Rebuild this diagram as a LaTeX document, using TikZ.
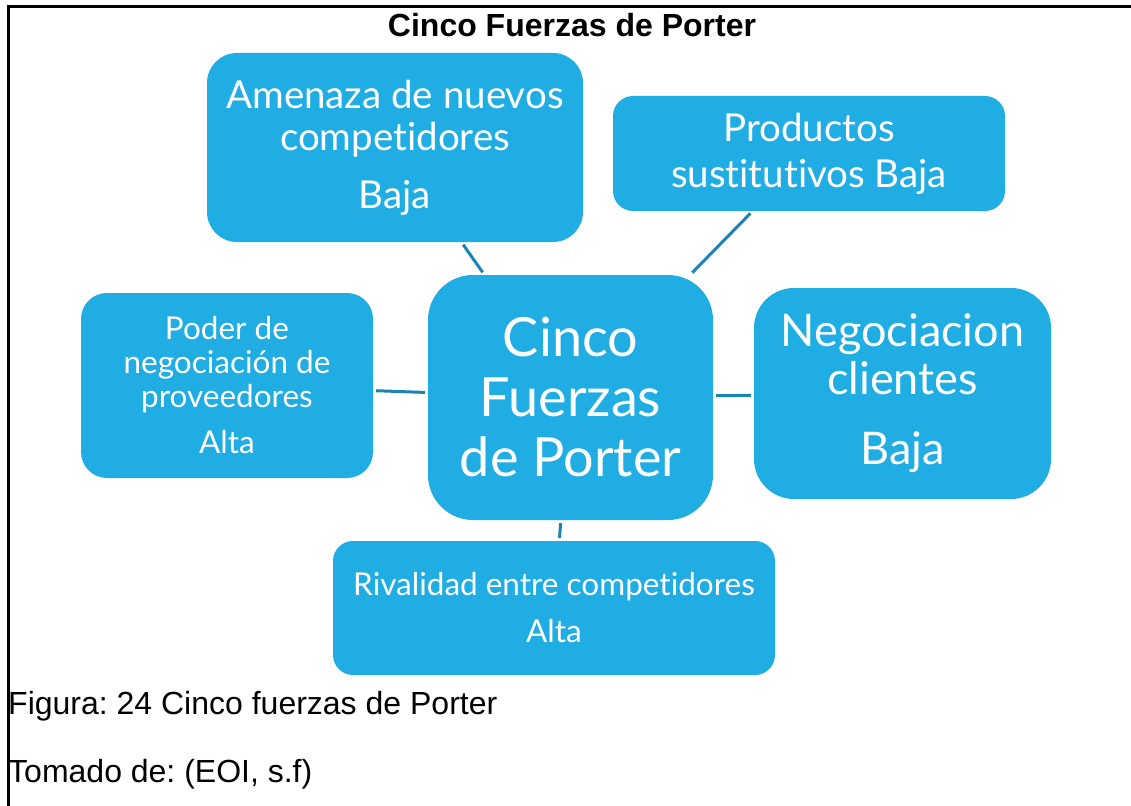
\documentclass[tikz,border=0pt]{standalone}
\usepackage{fontspec}
\setmainfont{Liberation Sans}
\newfontfamily\boxfont[Ligatures=NoCommon]{Lato}
\definecolor{boxblue}{RGB}{31,173,228}
\definecolor{linkblue}{RGB}{26,133,180}
\frenchspacing
\begin{document}
\begin{tikzpicture}[x=1pt,y=-1pt,
  force/.style={fill=boxblue, text=white, align=center, inner sep=0pt},
  link/.style={draw=linkblue, line width=3pt, shorten >=3pt, shorten <=3pt},
  caption/.style={anchor=base west, inner sep=0pt, font=\fontsize{32}{36}\selectfont}]
\useasboundingbox (0,0) rectangle (1131,805);
\clip (0,0) rectangle (1131,805);
\fill[white] (0,0) rectangle (1131,805);
\draw[line width=3pt] (8,7) rectangle (1145,820);
\node[anchor=base, inner sep=0pt, font=\bfseries\fontsize{32}{36}\selectfont] (title) at (572,37) {Cinco Fuerzas de Porter};

\node[force, rounded corners=30, minimum width=376, minimum height=189,
  font=\boxfont\fontsize{38.5}{42}\selectfont] (amenaza) at (395,147.5)
  {Amenaza de nuevos\\competidores\\[16pt]Baja};
\node[force, rounded corners=20, minimum width=392, minimum height=115,
  font=\boxfont\fontsize{38.5}{46}\selectfont] (sust) at (809,153.5)
  {Productos\\sustitutivos Baja};
\node[force, rounded corners=26, minimum width=292, minimum height=185,
  font=\boxfont\fontsize{31.5}{34}\selectfont] (prov) at (227,385.5)
  {Poder de\\negociación de\\proveedores\\[12pt]Alta};
\node[force, rounded corners=45, minimum width=285, minimum height=245,
  font=\boxfont\fontsize{54}{60}\selectfont] (center) at (570.5,397.5)
  {Cinco\\Fuerzas\\de Porter};
\node[force, rounded corners=40, minimum width=297, minimum height=211,
  font=\boxfont\fontsize{45}{48}\selectfont] (cli) at (902.5,393.5)
  {Negociacion\\clientes\\[22pt]Baja};
\node[force, rounded corners=20, minimum width=442, minimum height=134,
  font=\boxfont\fontsize{31.5}{34}\selectfont] (riv) at (554,608)
  {Rivalidad entre competidores\\[13pt]Alta};

\draw[link] (amenaza) -- (center);
\draw[link] (sust) -- (center);
\draw[link] (prov) -- (center);
\draw[link] (center) -- (cli);
\draw[link] (center) -- (riv);

\node[caption] (fig) at (8,714) {Figura: 24 Cinco fuerzas de Porter};
\node[caption] (src) at (8,782) {Tomado de: (EOI, s.f)};
\end{tikzpicture}
\end{document}
